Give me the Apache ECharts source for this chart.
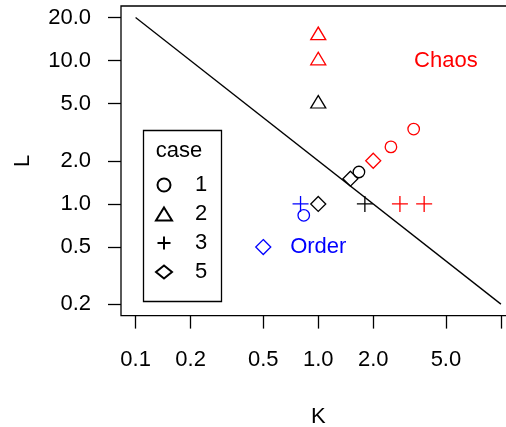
<!DOCTYPE html>
<html><head><meta charset="utf-8">
<script src="https://cdn.jsdelivr.net/npm/echarts@6/dist/echarts.min.js"></script>
<style>html,body{margin:0;padding:0;background:#fff}#c{width:506px;height:427px}</style>
</head><body><div id="c"></div>
<script>
// ---- data ----
const case1K = [1.67, 2.5, 3.33, 0.833];
const case1L = [1.67, 2.5, 3.33, 0.833];
const case1Regime = ['boundary', 'chaos', 'chaos', 'order'];

const case2K = [1, 1, 1];
const case2L = [15, 10, 5];
const case2Regime = ['chaos', 'chaos', 'boundary'];

const case3K = [0.8, 1.8, 2.8, 3.8];
const case3L = [1, 1, 1, 1];
const case3Regime = ['order', 'boundary', 'chaos', 'chaos'];

const case5K = [0.5, 1, 1.5, 2];
const case5L = [0.5, 1, 1.5, 2];
const case5Regime = ['order', 'boundary', 'boundary', 'chaos'];

const boundaryK = [0.1, 10];
const boundaryL = [20, 0.2];

const regionNames = ['Chaos', 'Order'];
const regionK = [5, 1];
const regionL = [10, 0.5];
const regionRegime = ['chaos', 'order'];

const xTicks = [0.1, 0.2, 0.5, 1, 2, 5, 10];
const xTickLabels = [0.1, 0.2, 0.5, 1, 2, 5];
const yTicks = [0.2, 0.5, 1, 2, 5, 10, 20];
const yTickLabels = [0.2, 0.5, 1, 2, 5, 10, 20];

const caseNames = ['1', '2', '3', '5'];

// ---- styling ----
const FONT = 'Liberation Sans, Arial, Helvetica, sans-serif';
const regimeColor = { chaos: '#FF0000', order: '#0000FF', boundary: '#000000' };
const LW = 1.3;

function pts(K, L, R) {
  return K.map((k, i) => ({ value: [k, L[i]], itemStyle: { borderColor: regimeColor[R[i]] } }));
}

function scatter(name, K, L, R, symbol, size, offset) {
  return {
    name, type: 'scatter', symbol, symbolSize: size, symbolOffset: offset || [0, 0],
    itemStyle: { color: 'transparent', borderColor: '#000', borderWidth: LW, opacity: 1 },
    emphasis: { disabled: true },
    data: pts(K, L, R), z: 5
  };
}

const chart = echarts.init(document.getElementById('c'), null, { renderer: 'canvas' });
chart.setOption({
  animation: false,
  backgroundColor: '#fff',
  textStyle: { fontFamily: FONT },
  grid: {
    left: 121, top: 6, width: 394.5, height: 309.6,
    show: true, borderColor: '#000', borderWidth: LW, backgroundColor: 'transparent',
    containLabel: false, outerBoundsMode: 'none'
  },
  xAxis: {
    type: 'log', logBase: 10, min: 0.0832, max: 12.02,
    name: 'K', nameLocation: 'middle', nameGap: 90,
    nameTextStyle: { fontSize: 22, color: '#000', fontFamily: FONT },
    axisLine: { show: false },
    axisTick: { show: true, customValues: xTicks, length: 13, lineStyle: { color: '#000', width: LW } },
    axisLabel: { show: true, customValues: xTickLabels, margin: 33, fontSize: 22, color: '#000', fontFamily: FONT,
      formatter: v => (+v).toFixed(1) },
    splitLine: { show: false }, minorTick: { show: false }, minorSplitLine: { show: false }
  },
  yAxis: {
    type: 'log', logBase: 10, min: 0.1663, max: 24.04,
    name: 'L', nameLocation: 'middle', nameGap: 87, nameRotate: 90,
    nameTextStyle: { fontSize: 22, color: '#000', fontFamily: FONT },
    axisLine: { show: false },
    axisTick: { show: true, customValues: yTicks, length: 13, lineStyle: { color: '#000', width: LW } },
    axisLabel: { show: true, customValues: yTickLabels, margin: 30, fontSize: 22, color: '#000', fontFamily: FONT,
      formatter: v => (+v).toFixed(1) },
    splitLine: { show: false }, minorTick: { show: false }, minorSplitLine: { show: false }
  },
  legend: {
    show: true, orient: 'vertical', left: 155, top: 174, padding: 0,
    itemWidth: 16, itemHeight: 13, itemGap: 7,
    data: caseNames,
    textStyle: { fontSize: 22, color: '#000', fontFamily: FONT, lineHeight: 22, padding: [0, 0, 0, 18] },
    selectedMode: false
  },
  graphic: [
    { type: 'rect', left: 141, top: 128, shape: { width: 78, height: 171 },
      style: { fill: 'none', stroke: '#000', lineWidth: LW }, z: 10 },
    { type: 'text', x: 179, y: 151, style: { text: 'case', font: '22px ' + FONT, fill: '#000',
      textAlign: 'center', textVerticalAlign: 'middle' }, z: 10 }
  ],
  series: [
    {
      name: 'boundary', type: 'line', data: boundaryK.map((k, i) => [k, boundaryL[i]]),
      symbol: 'none', lineStyle: { color: '#000', width: LW }, silent: true, z: 3
    },
    scatter(caseNames[0], case1K, case1L, case1Regime, 'circle', 11.5),
    scatter(caseNames[1], case2K, case2L, case2Regime, 'triangle', [15, 12.5], [0, -2]),
    scatter(caseNames[2], case3K, case3L, case3Regime, 'path://M0,8L16,8M8,0L8,16', 16),
    scatter(caseNames[3], case5K, case5L, case5Regime, 'diamond', 15),
    {
      name: 'regions', type: 'scatter', symbolSize: 0, silent: true,
      data: regionNames.map((n, i) => ({ name: n, value: [regionK[i], regionL[i]],
        label: { color: regimeColor[regionRegime[i]] } })),
      label: { show: true, position: 'inside', formatter: p => p.name, fontSize: 22, fontFamily: FONT },
      itemStyle: { color: 'transparent', opacity: 1 }, z: 6
    }
  ]
});
</script></body></html>
